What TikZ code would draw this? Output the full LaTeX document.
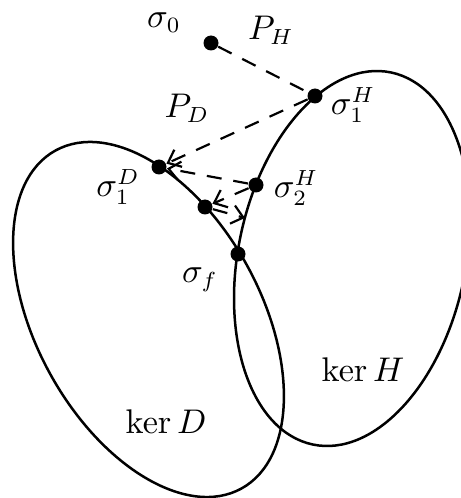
\documentclass[tikz,border=0pt]{standalone}
\usetikzlibrary{arrows.meta}
\begin{document}
\begin{tikzpicture}[x=0.32pt,y=0.32pt,
  dot/.style={circle,fill=black,inner sep=0pt,minimum size=4.8pt},
  kerline/.style={line width=0.8pt},
  proj/.style={line width=0.7pt,dash pattern=on 4.8pt off 3.8pt},
  projarrow/.style={proj,-{Straight Barb[length=3.6pt,width=6pt]}},
  lab/.style={font=\fontsize{10.5}{12}\selectfont,inner sep=0pt}]
\useasboundingbox (0,0) rectangle (461,498);
\begin{scope}
\clip (0,0) rectangle (461,498);
\draw[kerline,rotate around={118.8:(148.5,178.5)}] (148.5,178.5) ellipse [x radius=192.9, y radius=112.4];
\draw[kerline,rotate around={78.1:(352,239.5)}] (352,239.5) ellipse [x radius=190.1, y radius=113.7];
\end{scope}
\node[dot] (s0) at (211,455) {};
\node[dot] (s1H) at (315,402) {};
\node[dot] (s1D) at (159,331) {};
\node[dot] (s2H) at (256,313) {};
\node[dot] (m) at (205,291) {};
\node[dot] (sf) at (238,244) {};
\coordinate (pH) at (245,280);
\draw[proj] (s0) -- (s1H);
\draw[projarrow] (s1H) -- (s1D);
\draw[projarrow] (s2H) -- (s1D);
\draw[projarrow] (s2H) -- (m);
\draw[projarrow] (m) -- (pH);
\node[lab] (l0) at (164,475) {$\sigma_0$};
\node[lab] (lPH) at (271,468) {$P_H$};
\node[lab] (lPD) at (187,390) {$P_D$};
\node[lab] (l1H) at (353,393) {$\sigma_1^H$};
\node[lab] (l1D) at (118,311) {$\sigma_1^D$};
\node[lab] (l2H) at (296,310) {$\sigma_2^H$};
\node[lab] (lf) at (200,218) {$\sigma_f$};
\node[lab] (lkH) at (363,128) {$\ker H$};
\node[lab] (lkD) at (166,76) {$\ker D$};
\end{tikzpicture}
\end{document}
